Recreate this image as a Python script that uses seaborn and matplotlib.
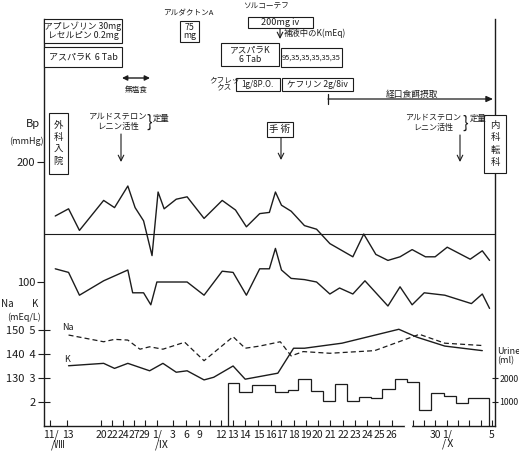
import matplotlib
matplotlib.use("Agg")
import matplotlib.pyplot as plt
from matplotlib.patches import Rectangle
from matplotlib.lines import Line2D
import seaborn as sns

# x is in date-column units along the (non-linear) date axis of the chart
sys_x = [0.1, 1.2, 2.1, 4.1, 5.0, 6.1, 6.7, 7.4, 8.1, 8.6, 9.1, 10.1, 11.0, 12.4, 13.9,
         15.0, 15.9, 17.0, 17.8, 18.3, 18.8, 19.6, 20.7, 21.7, 22.8, 24.7, 25.6, 26.6,
         27.6, 28.6, 29.6, 30.7, 31.5, 32.5, 34.4, 35.4, 36.0]
sys_bp = [155, 161, 143, 168, 162, 180, 162, 151, 122, 175, 161, 169, 171, 153, 168,
          160, 146, 157, 158, 175, 164, 159, 147, 144, 132, 121, 140, 123,
          118, 121, 127, 121, 121, 129, 119, 126, 118]

dia_x = [0.1, 1.2, 2.1, 4.1, 6.1, 6.5, 7.4, 8.0, 8.5, 11.0, 12.4, 13.9, 14.8, 15.9,
         17.0, 17.8, 18.3, 18.8, 19.6, 20.7, 21.7, 22.8, 23.6, 24.7, 25.7, 27.6, 28.6,
         29.6, 30.6, 32.3, 34.5, 35.4, 36.0]
dia_bp = [111, 108, 89, 101, 110, 91, 91, 81, 100, 100, 89, 109, 108, 89,
          111, 111, 128, 110, 103, 102, 100, 90, 95, 90, 101, 80, 96,
          81, 91, 89, 82, 90, 78]

na_x = [1.2, 4.1, 5.0, 6.1, 7.1, 7.9, 9.0, 10.8, 12.4, 14.8, 15.8, 17.0, 18.7, 19.6,
        20.6, 22.8, 26.5, 30.2, 32.3, 35.5]
na_val = [147.9, 145.1, 146.1, 145.8, 142.0, 143.0, 142.0, 144.9, 137.2, 147.2, 142.4,
          143.3, 145.1, 139.2, 141.0, 140.3, 141.4, 148.2, 144.5, 143.5]

k_x = [1.2, 4.1, 5.0, 6.1, 7.9, 9.0, 10.1, 11.0, 12.4, 13.2, 14.8, 15.8, 18.5, 19.8,
       20.7, 23.8, 28.5, 30.0, 32.3, 35.4]
k_val = [3.51, 3.61, 3.40, 3.61, 3.30, 3.61, 3.24, 3.30, 2.92, 3.03, 3.50, 2.95, 3.20,
         4.24, 4.24, 4.45, 5.03, 4.70, 4.33, 4.14]

urine_edges = [14.4, 15.3, 16.4, 18.3, 19.3, 20.2, 21.2, 22.2, 23.2, 24.2, 25.2, 26.2,
               27.1, 28.2, 29.2, 30.2, 31.2, 32.2, 33.2, 34.2, 35.95]
urine_ml = [1790, 1410, 1705, 1410, 1495, 1960, 1450, 1030, 1745, 1030, 1200, 1160,
            1535, 1960, 1830, 650, 1370, 1240, 950, 1160]

tick_pos = [-0.3, 1.1, 3.9, 4.8, 5.7, 6.6, 7.5, 8.5, 9.8, 10.9, 12.0, 13.8, 14.8, 15.8,
            16.9, 17.9, 18.8, 19.8, 20.8, 21.8, 22.8, 23.9, 24.9, 25.9, 26.9, 27.9,
            31.5, 32.5, 36.2]
tick_lab = ["11/", "13", "20", "22", "24", "27", "29", "1/", "3", "6", "9", "12", "13", "14",
            "15", "16", "17", "18", "19", "20", "21", "22", "23", "24", "25", "26",
            "30", "1/", "5"]
minor_pos = [12.9, 29.7, 30.6, 33.4, 34.3, 35.3]

bp_ticks = [100, 200]
k_ticks = [2, 3, 4, 5]
k_ticklab = ["2", "130  3", "140  4", "150  5"]
urine_ticks = [1000, 2000]

sns.set_style("ticks")
plt.rcParams["font.family"] = ["Noto Sans CJK JP", "DejaVu Sans"]
INK = "#1c1c1c"
plt.rcParams["text.color"] = INK
plt.rcParams["xtick.color"] = INK
plt.rcParams["ytick.color"] = INK

W, H = 519, 455
fig = plt.figure(figsize=(W / 100, H / 100), dpi=100)
fig.patch.set_facecolor("white")

rect = [44 / W, (H - 425.5) / H, (495 - 44) / W, (425.5 - 19) / H]
ax = fig.add_axes(rect)
ax_k = fig.add_axes(rect, sharex=ax)
ax_na = fig.add_axes(rect, sharex=ax)
ax_u = fig.add_axes(rect, sharex=ax)
for a in (ax_k, ax_na, ax_u):
    a.patch.set_visible(False)
    for sp in a.spines.values():
        sp.set_visible(False)
    a.tick_params(axis="x", which="both", bottom=False, labelbottom=False)

# blood pressure
sns.lineplot(x=sys_x, y=sys_bp, ax=ax, color=INK, lw=1.0, estimator=None, sort=False)
sns.lineplot(x=dia_x, y=dia_bp, ax=ax, color=INK, lw=1.0, estimator=None, sort=False)
ax.axhline(140, color=INK, lw=0.8)

# electrolytes
sns.lineplot(x=na_x, y=na_val, ax=ax_na, color=INK, lw=0.9, estimator=None, sort=False,
             linestyle=(0, (4, 2.5)))
sns.lineplot(x=k_x, y=k_val, ax=ax_k, color=INK, lw=1.0, estimator=None, sort=False)

# urine volume
ax_u.stairs(urine_ml, urine_edges, baseline=0, color=INK, lw=0.9)

ax.set_xlim(-0.83, 36.45)
ax.set_ylim(-19.6, 319.2)
ax_k.set_ylim(1.02, 17.96)
ax_na.set_ylim(110.2, 279.6)
ax_u.set_ylim(0, 17116)

ax.spines["top"].set_visible(False)
for s in ("left", "bottom", "right"):
    ax.spines[s].set_linewidth(1.0)
    ax.spines[s].set_color(INK)
ax.set_xticks(tick_pos)
ax.set_xticklabels(tick_lab)
ax.set_xticks(minor_pos, minor=True)
ax.tick_params(axis="x", which="both", direction="in", length=4, width=0.8,
               labelsize=7.5, pad=3)
ax.set_yticks(bp_ticks)
ax.tick_params(axis="y", direction="out", length=5, width=0.8, labelsize=8, pad=1.5,
               right=False)

ax_k.set_yticks(k_ticks)
ax_k.set_yticklabels(k_ticklab)
ax_k.tick_params(axis="y", direction="inout", length=8, width=0.8, labelsize=8, pad=2)
ax_na.tick_params(axis="y", left=False, labelleft=False)
ax_u.yaxis.tick_right()
ax_u.set_yticks(urine_ticks)
ax_u.tick_params(axis="y", direction="inout", length=5, width=0.8, labelsize=6.3, pad=0.5)
for a in (ax, ax_k, ax_na, ax_u):
    a.set_xlabel("")
    a.set_ylabel("")

# small break in the date axis
ax.plot([29.1, 29.45], [0, 0], transform=ax.get_xaxis_transform(), color="white",
        lw=2.5, clip_on=False, zorder=10)


def fx(x):
    return x / W


def fy(y):
    return 1 - y / H


def txt(x, y, s, size=6.5, **kw):
    kw.setdefault("ha", "center")
    kw.setdefault("va", "center")
    fig.text(fx(x), fy(y), s, fontsize=size, color=INK, **kw)


def box(x0, y0, x1, y1, s, size=6.5, ls=1.1):
    fig.add_artist(Rectangle((fx(x0), fy(y1)), (x1 - x0) / W, (y1 - y0) / H,
                             transform=fig.transFigure, fc="white", ec=INK, lw=0.8,
                             zorder=3))
    fig.text(fx((x0 + x1) / 2), fy((y0 + y1) / 2), s, fontsize=size, color=INK,
             ha="center", va="center", linespacing=ls, zorder=4)


def arrow(x0, y0, x1, y1, style="->", lw=0.8):
    ax.annotate("", xy=(fx(x1), fy(y1)), xytext=(fx(x0), fy(y0)),
                xycoords="figure fraction", textcoords="figure fraction",
                arrowprops=dict(arrowstyle=style, color=INK, lw=lw,
                                shrinkA=0, shrinkB=0))


# medication boxes
box(44, 19, 122, 43, "アプレゾリン 30mg\nレセルピン 0.2mg", 6.3, 1.05)
box(44, 47, 122, 67, "アスパラK  6 Tab", 6.5)
txt(188, 13, "アルダクトンA", 5.5)
box(180, 21, 199, 42, "75\nmg", 6.3, 1.0)
txt(266, 7, "ソルコーテフ", 5.5)
box(248, 17, 313, 28, "200mg iv", 6.5)
arrow(280, 28, 280, 39)
txt(284, 33, "補液中のK(mEq)", 6, ha="left")
box(221, 43, 279, 66, "アスパラK\n6 Tab", 6.3, 1.0)
box(281, 48, 342, 67, "95,35,35,35,35,35", 5.3)
txt(224, 84, "クフレッ\nクス", 5.5, linespacing=0.95)
box(236, 78, 280, 91, "1g/8P.O.", 5.8)
box(282, 78, 353, 91, "ケフリン 2g/8iv", 6.2)

arrow(122, 78, 150, 78, "<|-|>,head_length=0.3,head_width=0.15", 1.0)
txt(136, 90, "無塩食", 5.5)

txt(412, 94, "経口食餌摂取", 6.3)
arrow(328, 99, 493, 99, "-|>,head_length=0.4,head_width=0.18", 0.9)
fig.add_artist(Line2D([fx(328), fx(328)], [fy(94), fy(104)], color=INK, lw=0.9))

# hormone sampling
txt(118, 121, "アルドステロン\nレニン活性", 6, linespacing=1.15)
txt(149, 122, "}", 12)
txt(161, 118, "定量", 6)
arrow(121, 134, 121, 162)
txt(433, 122, "アルドステロン\nレニン活性", 5.8, linespacing=1.15)
txt(465, 123, "}", 12)
txt(478, 118, "定量", 6)
arrow(460, 135, 460, 162)

box(267, 122, 293, 137, "手 術", 6.8)
arrow(281, 137, 281, 160)

box(49, 113, 68, 174, "外\n科\n入\n院", 6.8, 1.45)
box(484, 115, 506, 173, "内\n科\n転\n科", 6.8, 1.45)

# axis captions
txt(33, 124, "Bp", 8)
txt(26, 141, "(mmHg)", 6.5)
txt(7, 304, "Na", 7)
txt(35, 304, "K", 7)
txt(24, 317, "(mEq/L)", 6.5)
txt(68, 328, "Na", 6.5)
txt(67, 359, "K", 6.5)
txt(497, 352, "Urine", 6.5, ha="left")
txt(497, 361, "(ml)", 6.5, ha="left")
txt(58, 445, "/Ⅷ", 7.5)
txt(162, 445, "/Ⅸ", 7.5)
txt(449, 444, "/Ⅹ", 7.5)

fig.savefig("out.png", dpi=100)
